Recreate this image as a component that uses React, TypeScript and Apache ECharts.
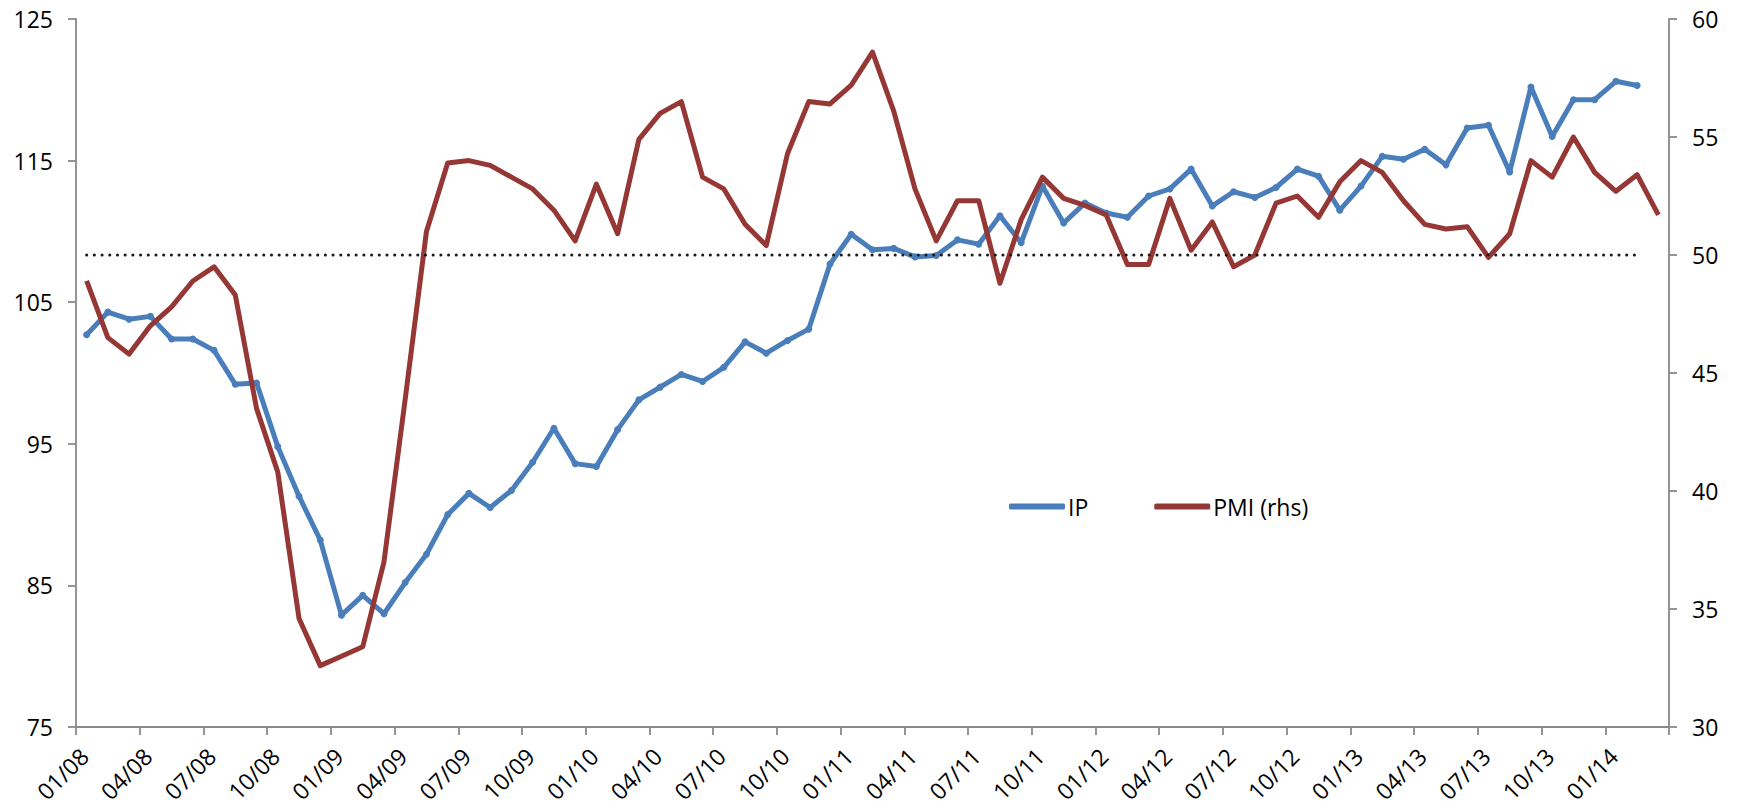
import React, { useEffect, useRef } from "react";
import * as echarts from "echarts";

const months = [
  "01/08", "02/08", "03/08", "04/08", "05/08", "06/08", "07/08", "08/08", "09/08", "10/08", "11/08", "12/08",
  "01/09", "02/09", "03/09", "04/09", "05/09", "06/09", "07/09", "08/09", "09/09", "10/09", "11/09", "12/09",
  "01/10", "02/10", "03/10", "04/10", "05/10", "06/10", "07/10", "08/10", "09/10", "10/10", "11/10", "12/10",
  "01/11", "02/11", "03/11", "04/11", "05/11", "06/11", "07/11", "08/11", "09/11", "10/11", "11/11", "12/11",
  "01/12", "02/12", "03/12", "04/12", "05/12", "06/12", "07/12", "08/12", "09/12", "10/12", "11/12", "12/12",
  "01/13", "02/13", "03/13", "04/13", "05/13", "06/13", "07/13", "08/13", "09/13", "10/13", "11/13", "12/13",
  "01/14", "02/14", "03/14",
];

const ipValues = [
  102.7, 104.3, 103.8, 104.0, 102.4, 102.4, 101.6, 99.2, 99.3, 94.8, 91.3, 88.2,
  82.9, 84.3, 83.0, 85.2, 87.2, 90.0, 91.5, 90.5, 91.7, 93.7, 96.1, 93.6,
  93.4, 96.0, 98.1, 99.0, 99.9, 99.4, 100.4, 102.2, 101.4, 102.3, 103.1, 107.7,
  109.8, 108.7, 108.8, 108.2, 108.3, 109.4, 109.1, 111.1, 109.2, 113.2, 110.6, 112.0,
  111.3, 111.0, 112.5, 113.0, 114.4, 111.8, 112.8, 112.4, 113.1, 114.4, 113.9, 111.5,
  113.2, 115.3, 115.1, 115.8, 114.7, 117.3, 117.5, 114.2, 120.2, 116.7, 119.3, 119.3,
  120.6, 120.3,
];

const pmiValues = [
  48.9, 46.5, 45.8, 47.0, 47.8, 48.9, 49.5, 48.3, 43.5, 40.8, 34.6, 32.6,
  33.0, 33.4, 37.0, 43.9, 51.0, 53.9, 54.0, 53.8, 53.3, 52.8, 51.9, 50.6,
  53.0, 50.9, 54.9, 56.0, 56.5, 53.3, 52.8, 51.3, 50.4, 54.3, 56.5, 56.4,
  57.2, 58.6, 56.1, 52.8, 50.6, 52.3, 52.3, 48.8, 51.5, 53.3, 52.4, 52.1,
  51.7, 49.6, 49.6, 52.4, 50.2, 51.4, 49.5, 50.0, 52.2, 52.5, 51.6, 53.1,
  54.0, 53.5, 52.3, 51.3, 51.1, 51.2, 49.9, 50.9, 54.0, 53.3, 55.0, 53.5,
  52.7, 53.4, 51.7,
];

const pmiThreshold = 50;
const leftAxis = { min: 75, max: 125, step: 10 };
const rightAxis = { min: 30, max: 60, step: 5 };
const labelEvery = 3;
const labelShift = 0.38; // labels sit slightly right of their tick, as in the original

const FONT = "'Open Sans', 'Noto Sans', sans-serif";
const AXIS_COLOR = "#898989";
const BLUE = "#4A7EBB";
const RED = "#953735";

export default function App() {
  const ref = useRef<HTMLDivElement>(null);

  useEffect(() => {
    if (!ref.current) return;
    const chart = echarts.init(ref.current, null, { renderer: "svg" });
    const axisLine = { show: true, onZero: false, lineStyle: { color: AXIS_COLOR, width: 1.8 } };
    const axisTick = { show: true, length: 8, lineStyle: { color: AXIS_COLOR, width: 1.8 } };
    const labelStyle = { fontSize: 23, fontFamily: FONT, color: "#000" };

    const labelValues: number[] = [];
    for (let k = 0; k < months.length; k += labelEvery) labelValues.push(k + labelShift);

    chart.setOption({
      animation: false,
      textStyle: { fontFamily: FONT },
      grid: { left: 76, right: 68, top: 19, bottom: 84 },
      legend: {
        data: [
          { name: "IP", icon: "roundRect" },
          { name: "PMI (rhs)", icon: "roundRect" },
        ],
        left: 1004,
        top: 490,
        itemWidth: 56,
        itemHeight: 6,
        itemGap: 66,
        textStyle: { ...labelStyle, padding: [0, 0, 0, -2] },
      },
      xAxis: {
        type: "value",
        min: 0,
        max: months.length,
        interval: labelEvery,
        axisLine,
        axisTick,
        splitLine: { show: false },
        axisLabel: {
          ...labelStyle,
          rotate: 45,
          margin: 25,
          customValues: labelValues,
          formatter: (v: number) => {
            const idx = Math.round(v - labelShift);
            return idx >= 0 && idx < months.length && idx % labelEvery === 0 ? months[idx] : "";
          },
        },
      },
      yAxis: [
        {
          type: "value",
          position: "left",
          min: leftAxis.min,
          max: leftAxis.max,
          interval: leftAxis.step,
          axisLine,
          axisTick,
          splitLine: { show: false },
          axisLabel: { ...labelStyle, margin: 23 },
        },
        {
          type: "value",
          position: "right",
          min: rightAxis.min,
          max: rightAxis.max,
          interval: rightAxis.step,
          axisLine,
          axisTick,
          splitLine: { show: false },
          axisLabel: { ...labelStyle, margin: 23 },
        },
      ],
      series: [
        {
          name: "PMI (rhs)",
          type: "line",
          yAxisIndex: 1,
          data: pmiValues.map((v, i) => [i + 0.5, v]),
          symbol: "none",
          lineStyle: { color: RED, width: 5, join: "round" },
          itemStyle: { color: RED },
          z: 3,
        },
        {
          name: "IP",
          type: "line",
          yAxisIndex: 0,
          data: ipValues.map((v, i) => [i + 0.5, v]),
          symbol: "circle",
          symbolSize: 7,
          showSymbol: true,
          lineStyle: { color: BLUE, width: 5, join: "round" },
          itemStyle: { color: BLUE },
          z: 2,
        },
        {
          name: "threshold",
          type: "line",
          yAxisIndex: 1,
          data: [
            [0.5, pmiThreshold],
            [ipValues.length - 0.5, pmiThreshold],
          ],
          symbol: "none",
          silent: true,
          lineStyle: { color: "#1a1a1a", width: 3, type: [0.1, 7.6], cap: "round" },
          z: 4,
        },
      ],
    });
    return () => chart.dispose();
  }, []);

  return (
    <div
      ref={ref}
      style={{ position: "fixed", left: 0, top: 0, width: "1737px", height: "811px", background: "#fff" }}
    />
  );
}
